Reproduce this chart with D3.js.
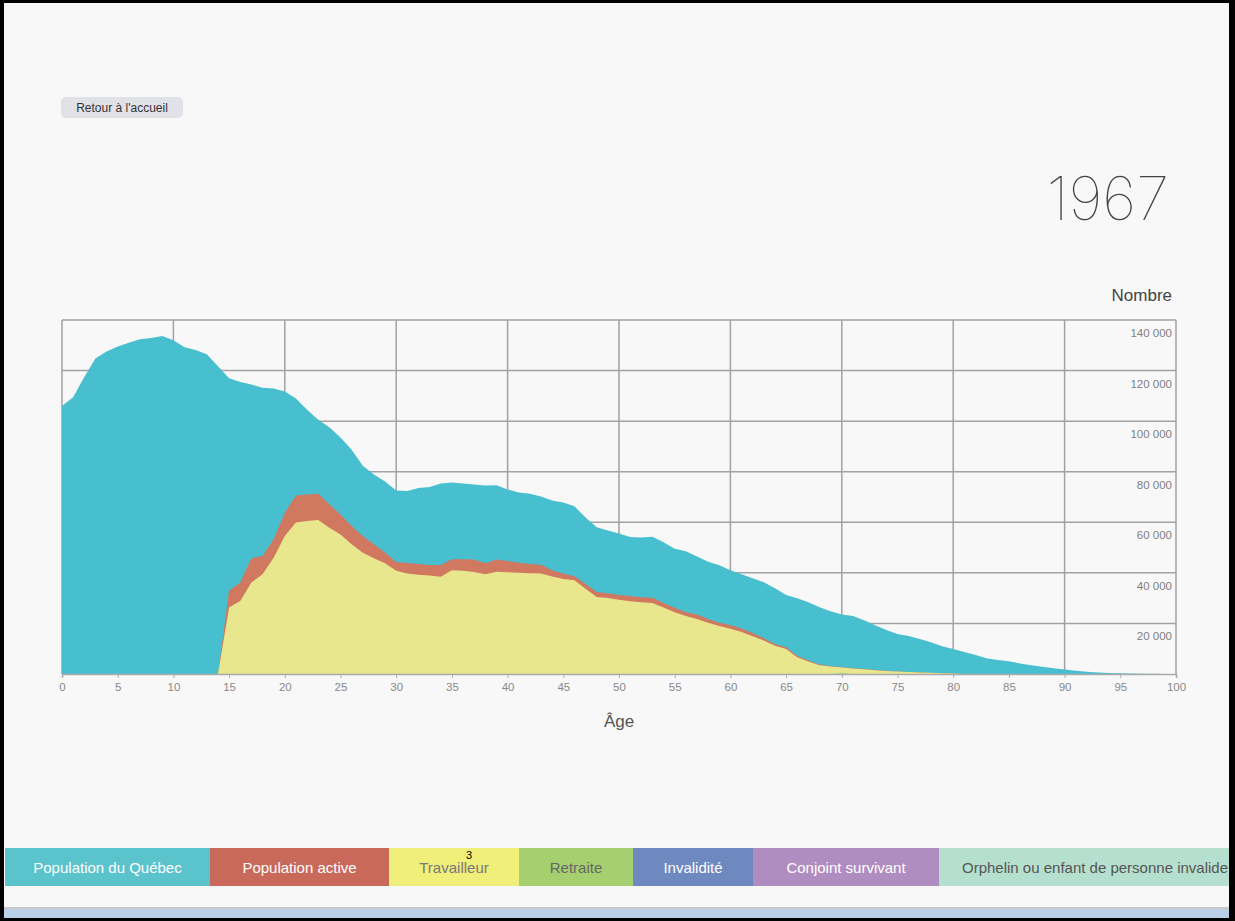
<!DOCTYPE html>
<html>
<head>
<meta charset="utf-8">
<script src="https://cdn.jsdelivr.net/npm/d3@7"></script>
<style>
  body { margin: 0; background: #000; }
  svg { display: block; font-family: "Liberation Sans", Arial, sans-serif; }
</style>
</head>
<body>
<div id="visualization"></div>
<script>
// ages 0..100
const ages = d3.range(0, 101);

const population = [
  106000, 109400, 117500, 124800, 127500, 129500, 131000, 132400, 132900, 133700,
  132000, 129200, 128100, 126500, 121700, 117000, 115500, 114500, 113200, 112900,
  111700, 109000, 104500, 100600, 97600, 93500, 88700, 82400, 78900, 76100,
  72600, 72400, 73600, 74000, 75300, 75700, 75300, 74900, 74500, 74600,
  73000, 71800, 71300, 70200, 68600, 67800, 66300, 61900, 58000, 56800,
  55600, 54200, 54000, 54300, 52100, 49500, 48500, 46500, 44400, 43000,
  41000, 39400, 37900, 36300, 33900, 31200, 30000, 28400, 26400, 24800,
  23500, 22900, 21300, 19300, 17400, 15800, 15000, 13800, 12600, 11000,
  9900, 8700, 7500, 6200, 5500, 5000, 4200, 3500, 2900, 2300,
  1800, 1300, 900, 600, 400, 250, 150, 100, 60, 30, 20
];

const active = [
  0, 0, 0, 0, 0, 0, 0, 0, 0, 0,
  0, 0, 0, 0, 0, 33000, 36200, 45800, 46700, 53300,
  63800, 70600, 71000, 71300, 67100, 63100, 58500, 54600, 51300, 48100,
  44300, 43900, 43500, 43100, 43100, 45400, 45400, 45300, 43800, 45300,
  44700, 44000, 43500, 43200, 41000, 39700, 38700, 35600, 32400, 31900,
  31200, 30800, 30400, 30200, 28100, 26200, 24400, 23500, 21800, 20300,
  19400, 18000, 16200, 14100, 11900, 10600, 7200, 5300, 3800, 3200,
  2700, 2300, 2000, 1600, 1300, 1000, 800, 600, 450, 300,
  200, 0, 0, 0, 0, 0, 0, 0, 0, 0,
  0, 0, 0, 0, 0, 0, 0, 0, 0, 0, 0
];

const travailleur = [
  0, 0, 0, 0, 0, 0, 0, 0, 0, 0,
  0, 0, 0, 0, 0, 26300, 28900, 36200, 39400, 46000,
  54600, 59900, 60500, 60900, 57800, 55200, 51300, 48000, 45800, 43800,
  40800, 39700, 39300, 39000, 38500, 41000, 40800, 40300, 39400, 40400,
  40200, 40000, 39800, 39700, 38600, 37600, 37100, 33700, 30500, 30100,
  29400, 28800, 28400, 28100, 26300, 24400, 22900, 21800, 20300, 19000,
  17900, 16600, 14900, 13200, 11200, 9900, 6600, 4900, 3500, 3000,
  2600, 2200, 1900, 1500, 1200, 1000, 800, 600, 450, 300,
  200, 0, 0, 0, 0, 0, 0, 0, 0, 0,
  0, 0, 0, 0, 0, 0, 0, 0, 0, 0, 0
];

// only a sliver around 70
const retraite = ages.map(a => a === 70 ? 600 : 0);

const yTicks = [20000, 40000, 60000, 80000, 100000, 120000, 140000];
const xTicks = d3.range(0, 101, 5);

const legendItems = [
  {label: "Population du Québec", color: "#5bc3cc", text: "#ffffff", x0: 5, x1: 210},
  {label: "Population active", color: "#c9695a", text: "#ffffff", x0: 210, x1: 389},
  {label: "Travailleur", color: "#f0ef7a", text: "#777777", x0: 389, x1: 519},
  {label: "Retraite", color: "#a6cf6f", text: "#666666", x0: 519, x1: 633},
  {label: "Invalidité", color: "#6e88c0", text: "#ffffff", x0: 633, x1: 753},
  {label: "Conjoint survivant", color: "#b08dc0", text: "#ffffff", x0: 753, x1: 939},
  {label: "Orphelin ou enfant de personne invalide", color: "#b5e0cf", text: "#555555", x0: 939, x1: 1235}
];

const W = 1235, H = 921;
const svg = d3.select("#visualization").append("svg")
    .attr("width", W)
    .attr("height", H);

// page background
svg.append("rect").attr("x", 0).attr("y", 0).attr("width", W).attr("height", H).attr("fill", "#f8f8f8");

const x = d3.scaleLinear().domain([0, 100]).range([62, 1176]);
const y = d3.scaleLinear().domain([0, 140000]).range([674, 320]);

// grid
const grid = svg.append("g").attr("stroke", "#a2a2a2").attr("stroke-width", 1.5);
grid.selectAll(".vg")
    .data(d3.range(0, 101, 10))
  .enter().append("line")
    .attr("x1", d => x(d)).attr("x2", d => x(d))
    .attr("y1", y(140000)).attr("y2", y(0));
grid.selectAll(".hg")
    .data(yTicks)
  .enter().append("line")
    .attr("x1", x(0)).attr("x2", x(100))
    .attr("y1", d => y(d)).attr("y2", d => y(d));

// areas, overlaid from zero
const area = vals => d3.area()
    .x((d, i) => x(ages[i]))
    .y0(y(0))
    .y1((d, i) => y(vals[i]))(vals);

svg.append("path").attr("d", area(population)).attr("fill", "#48bfcf");
svg.append("path").attr("d", area(active)).attr("fill", "#d07860");
svg.append("path").attr("d", area(travailleur)).attr("fill", "#e8e78e");
svg.append("path").attr("d", area(retraite)).attr("fill", "#b9d98a");

// y labels, sitting under each grid line
const fr = d3.formatLocale({decimal: ",", thousands: " ", grouping: [3], currency: ["", " $"]});
svg.selectAll(".ylab")
    .data(yTicks)
  .enter().append("text")
    .attr("x", 1172)
    .attr("y", d => y(d) + 17)
    .attr("text-anchor", "end")
    .attr("font-size", 11.5)
    .attr("fill", "#808080")
    .text(d => fr.format(",")(d));

// x axis
const xAxis = svg.append("g")
    .attr("transform", `translate(0,${y(0)})`)
    .call(d3.axisBottom(x).tickValues(xTicks).tickSize(4).tickPadding(5));
xAxis.select(".domain").attr("stroke", "#aaa").attr("stroke-width", 1.5);
xAxis.selectAll(".tick line").attr("stroke", "#aaa");
xAxis.selectAll(".tick text")
    .attr("fill", "#888")
    .attr("font-size", 11.5)
    .attr("font-family", "Liberation Sans, Arial, sans-serif");

svg.append("text")
    .attr("x", x(50)).attr("y", 727)
    .attr("text-anchor", "middle")
    .attr("font-size", 17).attr("fill", "#555")
    .text("Âge");

svg.append("text")
    .attr("x", 1172).attr("y", 301)
    .attr("text-anchor", "end")
    .attr("font-size", 17).attr("fill", "#444")
    .text("Nombre");

svg.append("text")
    .attr("x", 1169).attr("y", 220)
    .attr("text-anchor", "end")
    .attr("font-family", "Inter, Lato, sans-serif")
    .attr("font-weight", 100)
    .attr("font-size", 60).attr("fill", "#444")
    .text("1967");

// button
svg.append("rect")
    .attr("x", 61).attr("y", 97).attr("width", 122).attr("height", 21).attr("rx", 5)
    .attr("fill", "#e1e1e8");
svg.append("text")
    .attr("x", 122).attr("y", 112)
    .attr("text-anchor", "middle")
    .attr("font-size", 12).attr("fill", "#333")
    .text("Retour à l'accueil");

// legend bar
const leg = svg.append("g");
leg.selectAll("rect")
    .data(legendItems)
  .enter().append("rect")
    .attr("x", d => d.x0).attr("y", 848)
    .attr("width", d => d.x1 - d.x0).attr("height", 38)
    .attr("fill", d => d.color);
leg.selectAll("text")
    .data(legendItems)
  .enter().append("text")
    .attr("x", d => d.label.startsWith("Orphelin") ? 962 : (d.x0 + d.x1) / 2)
    .attr("y", 873)
    .attr("text-anchor", d => d.label.startsWith("Orphelin") ? "start" : "middle")
    .attr("font-size", 15)
    .attr("fill", d => d.text)
    .text(d => d.label);

svg.append("text")
    .attr("x", 469).attr("y", 859)
    .attr("text-anchor", "middle")
    .attr("font-size", 11).attr("fill", "#000")
    .text("3");

// bottom strip
svg.append("rect").attr("x", 0).attr("y", 907).attr("width", W).attr("height", 2).attr("fill", "#c8c8c8");
svg.append("rect").attr("x", 0).attr("y", 909).attr("width", W).attr("height", 9).attr("fill", "#b9d0e8");

// frame
const frame = svg.append("g").attr("fill", "#000");
frame.append("rect").attr("x", 0).attr("y", 0).attr("width", W).attr("height", 3);
frame.append("rect").attr("x", 0).attr("y", 0).attr("width", 4).attr("height", H);
frame.append("rect").attr("x", 1229).attr("y", 0).attr("width", 6).attr("height", H);
frame.append("rect").attr("x", 0).attr("y", 918).attr("width", W).attr("height", 3);
</script>
</body>
</html>
